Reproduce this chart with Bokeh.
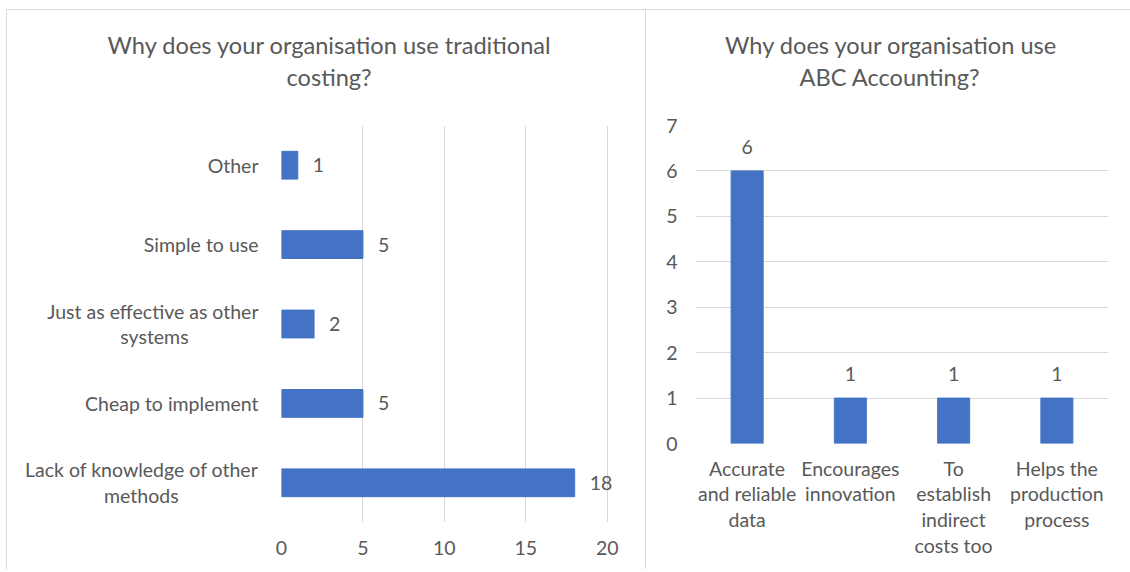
from bokeh.plotting import figure
from bokeh.models import ColumnDataSource, LabelSet, Title, FactorRange, Range1d, FixedTicker, Spacer
from bokeh.layouts import row, column
from bokeh.core.properties import value
from bokeh.embed import file_html
from bokeh.resources import INLINE

# ---- data ----
trad_reasons = [
    "Lack of knowledge of other\nmethods",
    "Cheap to implement",
    "Just as effective as other\nsystems",
    "Simple to use",
    "Other",
]
trad_counts = [18, 5, 2, 5, 1]
trad_ticks = [0, 5, 10, 15, 20]

abc_reasons = [
    "Accurate\nand reliable\ndata",
    "Encourages\ninnovation",
    "To\nestablish\nindirect\ncosts too",
    "Helps the\nproduction\nprocess",
]
abc_counts = [6, 1, 1, 1]
abc_ticks = [0, 1, 2, 3, 4, 5, 6, 7]

title_left = ["Why does your organisation use traditional", "costing?"]
title_right = ["Why does your organisation use", "ABC Accounting?"]

FONT = "Lato"
TXT = "#595959"
GRID = "#d9d9d9"
BAR = "#4472C4"
TICK_FS = "19.5px"
TITLE_FS = "23.6px"
NB = "\u00a0"

# wrapped category labels: pad the short second line so it sits centred
# under the first line when the axis right-aligns the block
pad_counts = {0: 16, 2: 14}
trad_factors = [
    (r + NB * pad_counts[i]) if i in pad_counts else r
    for i, r in enumerate(trad_reasons)
]

# ---- left chart ----
src1 = ColumnDataSource(dict(reason=trad_factors, count=trad_counts,
                             lab=[str(c) for c in trad_counts]))
p1 = figure(width=640, height=560, output_backend="svg", toolbar_location=None, title=None,
            y_range=FactorRange(*trad_factors, range_padding=0),
            x_range=Range1d(0, 21.55),
            min_border_left=274, min_border_right=15, min_border_top=115, min_border_bottom=48)
p1.hbar(y="reason", right="count", height=0.35, source=src1, color=BAR)
p1.add_layout(LabelSet(x="count", y="reason", text="lab", source=src1, x_offset=15,
                       text_baseline="middle", text_font=value(FONT), text_font_size=TICK_FS,
                       text_color=TXT))
p1.xaxis.ticker = FixedTicker(ticks=trad_ticks)
p1.xgrid.ticker = FixedTicker(ticks=trad_ticks)
p1.xgrid.grid_line_color = GRID
p1.ygrid.grid_line_color = None
p1.xaxis.axis_line_color = None
p1.yaxis.axis_line_color = None
p1.xaxis.major_tick_line_color = None
p1.yaxis.major_tick_line_color = None
p1.xaxis.minor_tick_line_color = None
p1.yaxis.major_label_standoff = 17
p1.xaxis.major_label_standoff = 12
p1.yaxis.major_label_text_line_height = 1.12

# ---- right chart ----
src2 = ColumnDataSource(dict(reason=abc_reasons, count=abc_counts,
                             lab=[str(c) for c in abc_counts]))
p2 = figure(width=484, height=560, output_backend="svg", toolbar_location=None, title=None,
            x_range=FactorRange(*abc_reasons, range_padding=0),
            y_range=Range1d(0, 7),
            min_border_left=49, min_border_right=22, min_border_top=115, min_border_bottom=127)
p2.vbar(x="reason", top="count", width=0.31, source=src2, color=BAR)
p2.add_layout(LabelSet(x="reason", y="count", text="lab", source=src2, y_offset=17,
                       text_align="center", text_baseline="bottom", text_font=value(FONT),
                       text_font_size=TICK_FS, text_color=TXT))
p2.yaxis.ticker = FixedTicker(ticks=abc_ticks)
p2.ygrid.ticker = FixedTicker(ticks=abc_ticks)
p2.ygrid.grid_line_color = GRID
p2.xgrid.grid_line_color = None
p2.xaxis.axis_line_color = None
p2.yaxis.axis_line_color = None
p2.xaxis.major_tick_line_color = None
p2.yaxis.major_tick_line_color = None
p2.yaxis.minor_tick_line_color = None
p2.xaxis.major_label_standoff = 7
p2.yaxis.major_label_standoff = 12
p2.xaxis.major_label_text_line_height = 1.12


def add_titles(p, lines, offsets):
    # spacer between frame and title lines
    p.add_layout(Title(text=" ", text_font_size="23px", standoff=6), "above")
    for txt, off in zip(reversed(lines), reversed(offsets)):
        p.add_layout(Title(text=txt, align="left", offset=off, standoff=2,
                           text_font=FONT, text_font_size=TITLE_FS,
                           text_font_style="normal", text_color=TXT), "above")


add_titles(p1, title_left, [-174, 5])
add_titles(p2, title_right, [29.5, 104])

for p in (p1, p2):
    p.outline_line_color = None
    p.frame_align = False
    for ax in (p.xaxis, p.yaxis):
        ax.major_label_text_font = FONT
        ax.major_label_text_font_size = TICK_FS
        ax.major_label_text_color = TXT

p1.styles = {"border-top": "1px solid #d9d9d9", "border-left": "1px solid #d9d9d9",
             "border-right": "1px solid #d9d9d9", "box-sizing": "border-box"}
p2.styles = {"border-top": "1px solid #d9d9d9", "box-sizing": "border-box"}

layout = column(Spacer(height=9), row(Spacer(width=6), p1, p2, spacing=0), spacing=0)
open("out.html", "w").write(file_html(layout, INLINE))
